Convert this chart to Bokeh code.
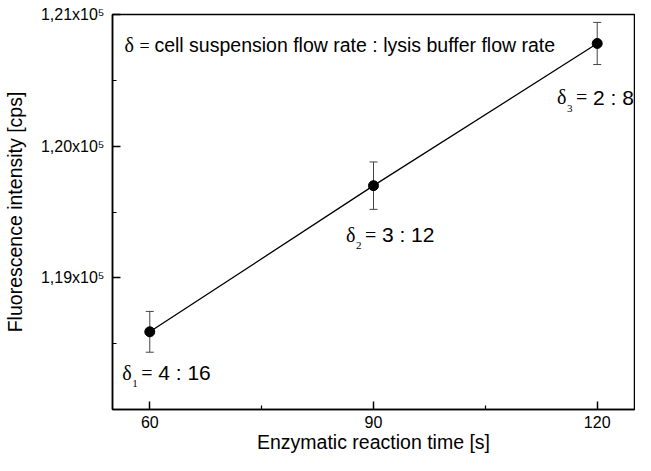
from bokeh.plotting import figure
from bokeh.models import Range1d, FixedTicker, Whisker, TeeHead, ColumnDataSource, Label
from bokeh.embed import file_html
from bokeh.resources import INLINE

# ---- data ----
time_s = [60, 90, 120]
intensity = [118590, 119700, 120780]
err = [155, 180, 160]
ratio_labels = ["4 : 16", "3 : 12", "2 : 8"]
ratio_index = ["1", "2", "3"]
x_ticks = [60, 90, 120]
x_minor = [75, 105]
y_ticks = [119000, 120000, 121000]
y_minor = [118500, 119500, 120500]
y_tick_labels = ["1,19x10\u2075", "1,20x10\u2075", "1,21x10\u2075"]
header_text = "cell suspension flow rate : lysis buffer flow rate"

SANS = "Liberation Sans"
SERIF = "Liberation Serif"

p = figure(width=635, height=455, output_backend="svg", toolbar_location=None,
           x_range=Range1d(55, 125), y_range=Range1d(118000, 121000),
           min_border_left=106, min_border_right=1, min_border_top=14, min_border_bottom=40)
p.grid.visible = False
p.outline_line_color = "black"
p.outline_line_width = 1.5

for ax in (p.xaxis[0], p.yaxis[0]):
    ax.axis_line_width = 1.5
    ax.axis_line_color = "black"
    ax.major_tick_in = 8
    ax.major_tick_out = 0
    ax.minor_tick_in = 4
    ax.minor_tick_out = 0
    ax.major_tick_line_width = 1.5
    ax.minor_tick_line_width = 1.2
    ax.major_tick_line_color = "black"
    ax.minor_tick_line_color = "black"
    ax.major_label_text_font = SANS
    ax.major_label_text_font_size = "16px"
    ax.major_label_text_color = "black"
    ax.axis_label_text_font = SANS
    ax.axis_label_text_font_size = "19.5px"
    ax.axis_label_text_font_style = "normal"
    ax.axis_label_text_color = "black"

p.xaxis.ticker = FixedTicker(ticks=x_ticks, minor_ticks=x_minor)
p.yaxis.ticker = FixedTicker(ticks=y_ticks, minor_ticks=y_minor)
p.yaxis.major_label_overrides = {v: s for v, s in zip(y_ticks, y_tick_labels)}
p.xaxis.major_label_standoff = 6
p.yaxis.major_label_standoff = 8
p.xaxis.axis_label = "Enzymatic reaction time [s]"
p.yaxis.axis_label = "Fluorescence intensity [cps]"
p.xaxis.axis_label_standoff = 0
p.yaxis.axis_label_standoff = 12

src = ColumnDataSource(dict(x=time_s, y=intensity,
                            lo=[a - b for a, b in zip(intensity, err)],
                            hi=[a + b for a, b in zip(intensity, err)]))

p.add_layout(Whisker(source=src, base="x", upper="hi", lower="lo",
                     line_color="#444444", line_width=1,
                     upper_head=TeeHead(size=8, line_color="#444444", line_width=1),
                     lower_head=TeeHead(size=8, line_color="#444444", line_width=1)))
p.line("x", "y", source=src, line_color="black", line_width=1.3)
p.scatter("x", "y", source=src, size=10, color="black")

def add_text(x, y, dx, dy, text, font, size):
    p.add_layout(Label(x=x, y=y, x_offset=dx, y_offset=dy, text=text,
                       text_font=font, text_font_size=size,
                       text_align="left", text_baseline="middle", text_color="black"))

# header annotation
hx, hy = 56.6, 120765
add_text(hx, hy, 0, 0, "δ", SERIF, "20px")
add_text(hx, hy, 15, -1, "=", SERIF, "18px")
add_text(hx, hy, 30, 0, header_text, SANS, "19.5px")

# point annotations
anchors = [(56.3, 118281), (86.3, 119329), (114.6, 120370)]
for (ax_, ay_), idx, lab in zip(anchors, ratio_index, ratio_labels):
    add_text(ax_, ay_, 0, 0, "δ", SERIF, "20px")
    add_text(ax_, ay_, 10, -11, idx, SERIF, "11px")
    add_text(ax_, ay_, 19, 0, "=", SERIF, "20px")
    add_text(ax_, ay_, 36, 0, lab, SANS, "21px")

open("out.html", "w").write(file_html(p, INLINE))
